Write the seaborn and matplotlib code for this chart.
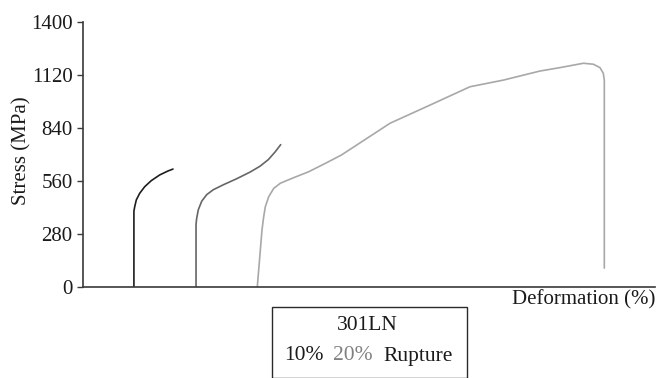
import matplotlib
matplotlib.use("Agg")
import matplotlib.pyplot as plt
from matplotlib.patches import Rectangle
import pandas as pd
import seaborn as sns

# Stress-strain curves for 301LN steel (deformation in arbitrary % units, stress in MPa)
strain_10 = [8.9, 8.9, 9.04, 9.32, 9.91, 10.79, 11.94, 13.41, 14.86, 15.73]
stress_10 = [0, 400, 424, 460, 495, 530, 562, 592, 613, 623]

strain_20 = [19.76, 19.76, 19.88, 20.16, 20.75, 21.63, 22.78, 24.53, 26.87,
             29.20, 30.94, 32.40, 33.57, 34.56]
stress_20 = [0, 330, 364, 408, 453, 488, 514, 540, 572,
             607, 638, 673, 713, 752]

strain_rup = [30.47, 31.29, 31.59, 31.87, 32.47, 33.34, 34.49, 36.54, 39.46,
              42.36, 45.16, 47.85, 53.67, 60.66, 67.66, 73.48, 79.90, 83.39,
              87.47, 89.21, 90.38, 90.96, 91.14, 91.14]
stress_rup = [0, 301, 371, 424, 477, 521, 548, 574, 609,
              653, 697, 750, 865, 961, 1058, 1093, 1141, 1159,
              1182, 1177, 1159, 1129, 1093, 100]

y_ticks = [0, 280, 560, 840, 1120, 1400]
series_names = ["10%", "20%", "Rupture"]
series_colors = ["#1e1e1e", "#666666", "#a8a8a8"]

sns.set_theme(style="white")
plt.rcParams["font.family"] = ["Liberation Serif", "DejaVu Serif"]

W, H = 657, 378
fig = plt.figure(figsize=(W / 100, H / 100), dpi=100)
ax = fig.add_axes([83 / W, (H - 287) / H, (655 - 83) / W, (287 - 22) / H])

frames = []
for name, xs, ys in zip(series_names,
                        [strain_10, strain_20, strain_rup],
                        [stress_10, stress_20, stress_rup]):
    frames.append(pd.DataFrame({"strain": xs, "stress": ys, "series": name}))
df = pd.concat(frames, ignore_index=True)

for name, color in zip(series_names, series_colors):
    sub = df[df["series"] == name]
    sns.lineplot(data=sub, x="strain", y="stress", sort=False, estimator=None,
                 color=color, linewidth=1.2, ax=ax, legend=False,
                 solid_joinstyle="round", solid_capstyle="round")

ax.set_xlim(0, 100)
ax.set_ylim(0, 1400)
ax.set_yticks(y_ticks)
ax.set_yticklabels([str(t) for t in y_ticks])
ax.set_xticks([])
ax.set_xlabel("")
ax.set_ylabel("")
for side in ("top", "right"):
    ax.spines[side].set_visible(False)
for side in ("left", "bottom"):
    ax.spines[side].set_color("#3a3a3a")
    ax.spines[side].set_linewidth(1.2)
ax.tick_params(axis="y", left=True, length=4.5, width=1.0, color="#3a3a3a",
               pad=3, labelsize=15, labelcolor="#1a1a1a")
ax.patch.set_alpha(0)

fig.text(655 / W, 1 - 300 / H, "Deformation (%)", ha="right", va="center",
         fontsize=15, color="#1a1a1a")
fig.text(22 / W, 1 - 151 / H, "Stress (MPa)", ha="center", va="center",
         rotation=90, fontsize=15, color="#1a1a1a")

# Legend panel below the axis
fig.patches.append(Rectangle((272 / W, 0), (467 - 272) / W, (H - 307) / H,
                             transform=fig.transFigure, fill=False,
                             edgecolor="#2a2a2a", linewidth=1.0))
fig.text(367 / W, 1 - 326 / H, "301LN", ha="center", va="center",
         fontsize=15.5, color="#1a1a1a")
fig.text(303.5 / W, 1 - 356 / H, "10%", ha="center", va="center",
         fontsize=15.5, color="#1a1a1a")
fig.text(352.5 / W, 1 - 356 / H, "20%", ha="center", va="center",
         fontsize=15.5, color="#808080")
fig.text(418 / W, 1 - 356 / H, "Rupture", ha="center", va="center",
         fontsize=15.5, color="#1a1a1a")

fig.savefig("out.png", dpi=100)
